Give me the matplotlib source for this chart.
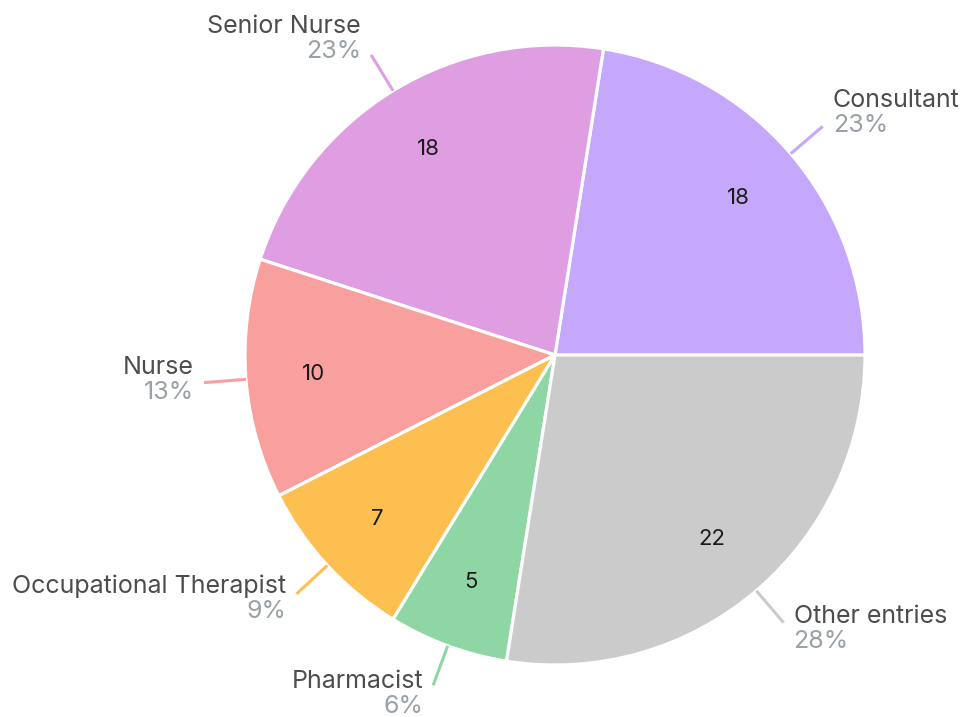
import numpy as np
import matplotlib.pyplot as plt

labels = ['Consultant', 'Senior Nurse', 'Nurse', 'Occupational Therapist',
          'Pharmacist', 'Other entries']
values = [18, 18, 10, 7, 5, 22]
colors = ['#C5A7FB', '#DF9DE2', '#F9A09E', '#FDBF50', '#8FD6A5', '#CBCBCB']

plt.rcParams['font.family'] = ['Inter', 'DejaVu Sans']

fig = plt.figure(figsize=(9.68, 7.17), dpi=100)
ax = fig.add_axes([0, 0, 1, 1])

cx, cy, R = 555, 362, 310
total = sum(values)

wedges, _, autotexts = ax.pie(
    values, colors=colors, startangle=0, counterclock=True,
    center=(cx, cy), radius=R, autopct=lambda p: '%d' % round(p * total / 100),
    pctdistance=0.78, wedgeprops=dict(edgecolor='white', linewidth=2.3),
    textprops=dict(fontsize=16, color='#1a1a1a'), frame=True)
ax.set_xlim(0, 968)
ax.set_ylim(0, 717)
ax.set_aspect('equal')
ax.axis('off')

for w, lab, v, col in zip(wedges, labels, values, colors):
    ang = np.deg2rad((w.theta1 + w.theta2) / 2)
    ca, sa = np.cos(ang), np.sin(ang)
    x0, y0 = cx + R * ca, cy + R * sa
    x1, y1 = cx + (R + 42) * ca, cy + (R + 42) * sa
    ax.plot([x0, x1], [y0, y1], color=col, lw=2.2, solid_capstyle='butt')
    ha = 'left' if ca > 0 else 'right'
    tx = x1 + (10 if ca > 0 else -10)
    ty = y1 + 4 + 14 * sa
    pct = '%d%%' % int(100 * v / total + 0.5)
    ax.text(tx, ty + 1, lab, ha=ha, va='bottom', fontsize=18, color='#4d4d4d')
    ax.text(tx, ty - 1, pct, ha=ha, va='top', fontsize=18, color='#9AA0AA')

fig.savefig('out.png', dpi=100)
